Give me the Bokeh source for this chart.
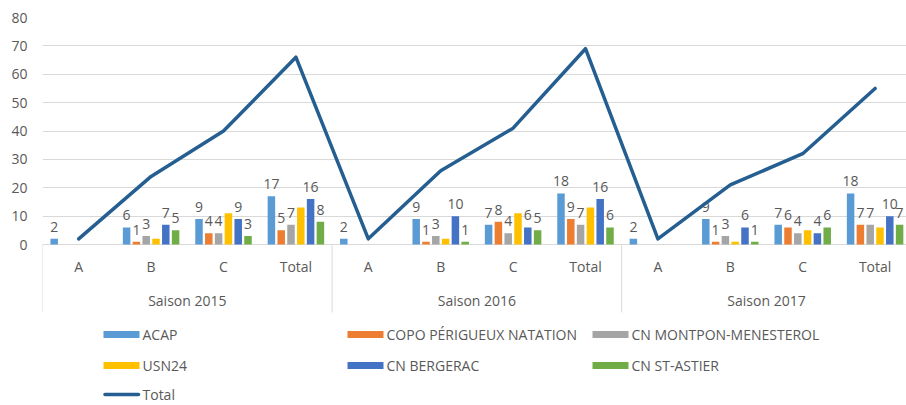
from bokeh.plotting import figure
from bokeh.models import ColumnDataSource, Range1d, FixedTicker
from bokeh.embed import file_html
from bokeh.resources import INLINE
from bokeh.core.properties import value
from bokeh.transform import dodge

# ---------------- data ----------------
seasons = ["Saison 2015", "Saison 2016", "Saison 2017"]
levels = ["A", "B", "C", "Total"]
series_names = ["ACAP", "COPO PÉRIGUEUX NATATION", "CN MONTPON-MENESTEROL",
                "USN24", "CN BERGERAC", "CN ST-ASTIER"]
acap     = [2, 6, 9, 17, 2, 9, 7, 18, 2, 9, 7, 18]
copo     = [0, 1, 4, 5, 0, 1, 8, 9, 0, 1, 6, 7]
montpon  = [0, 3, 4, 7, 0, 3, 4, 7, 0, 3, 4, 7]
usn24    = [0, 2, 11, 13, 0, 2, 11, 13, 0, 1, 5, 6]
bergerac = [0, 7, 9, 16, 0, 10, 6, 16, 0, 6, 4, 10]
stastier = [0, 5, 3, 8, 0, 1, 5, 6, 0, 1, 6, 7]
total    = [2, 24, 40, 66, 2, 26, 41, 69, 2, 21, 32, 55]
y_ticks = [0, 10, 20, 30, 40, 50, 60, 70, 80]

# ---------------- styles / layout ----------------
colors = ["#5B9BD5", "#ED7D31", "#A5A5A5", "#FFC000", "#4472C4", "#70AD47"]
line_color = "#255E91"
show_labels = [True, True, True, False, True, True]
FONT = "Open Sans"
TXT = "#595959"
GRID = "#D9D9D9"

W, H = 906, 405
FRAME_L, FRAME_R, FRAME_T, FRAME_B = 42, 906, 17, 405   # figure pixels
ZERO_Y = 244
PX_PER_CAT = 72.4
PX_PER_UNIT = (ZERO_Y - FRAME_T) / 80.0
BAR_W = 7.5 / PX_PER_CAT
BAR_PITCH = 9.8 / PX_PER_CAT


def dx(px):
    return (px - FRAME_L) / PX_PER_CAT


def dy(py):
    return (ZERO_Y - py) / PX_PER_UNIT


series_values = [acap, copo, montpon, usn24, bergerac, stastier]
n_cat = len(seasons) * len(levels)
cat_x = [i + 0.5 for i in range(n_cat)]
cat_labels = levels * len(seasons)

data = {"x": cat_x, "total": total}
for k, vals in enumerate(series_values):
    data["s%d" % k] = vals
src = ColumnDataSource(data)

x_range = Range1d(0, (FRAME_R - FRAME_L) / PX_PER_CAT)
y_range = Range1d(dy(FRAME_B), 80)

p = figure(width=W, height=H, x_range=x_range, y_range=y_range,
           output_backend="svg", toolbar_location=None,
           x_axis_location=None,
           min_border_left=FRAME_L, min_border_right=0,
           min_border_top=FRAME_T, min_border_bottom=0)
p.outline_line_color = None
p.background_fill_color = "white"
p.border_fill_color = "white"

p.xgrid.visible = False
p.ygrid.ticker = FixedTicker(ticks=y_ticks)
p.ygrid.grid_line_color = GRID
p.ygrid.grid_line_width = 1

ax = p.yaxis[0]
ax.ticker = FixedTicker(ticks=y_ticks)
ax.axis_line_color = None
ax.major_tick_line_color = None
ax.minor_tick_line_color = None
ax.major_tick_out = 0
ax.major_tick_in = 0
ax.major_label_standoff = 15
ax.major_label_text_font = FONT
ax.major_label_text_font_size = "14px"
ax.major_label_text_color = TXT

# category axis separators
sep_x = [k * len(levels) for k in range(len(seasons) + 1)]
p.segment(x0=sep_x, x1=sep_x, y0=[0] * len(sep_x), y1=[dy(312)] * len(sep_x),
          line_color=GRID, line_width=1)

# bars
for k, name in enumerate(series_names):
    p.vbar(x=dodge("x", (k - 2.5) * BAR_PITCH, range=p.x_range), top="s%d" % k,
           width=BAR_W, source=src, fill_color=colors[k], line_color=None)

# data labels
for k, vals in enumerate(series_values):
    if not show_labels[k]:
        continue
    xs = [cat_x[i] + (k - 2.5) * BAR_PITCH for i, v in enumerate(vals) if v != 0]
    ys = [v for v in vals if v != 0]
    ts = [str(v) for v in vals if v != 0]
    p.text(x=xs, y=ys, text=ts, y_offset=-12, text_align="center",
           text_baseline="alphabetic", text_font=value(FONT),
           text_font_size="14px", text_color=TXT)

# total line
p.line(x="x", y="total", source=src, line_color=line_color, line_width=3.5,
       line_join="round", line_cap="round")

# category labels
p.text(x=cat_x, y=[dy(266)] * n_cat, text=cat_labels, text_align="center",
       text_baseline="middle", text_font=value(FONT), text_font_size="14px",
       text_color=TXT)
season_x = [(k + 0.5) * len(levels) for k in range(len(seasons))]
p.text(x=season_x, y=[dy(300)] * len(seasons), text=seasons, text_align="center",
       text_baseline="middle", text_font=value(FONT), text_font_size="14px",
       text_color=TXT)

# legend (row-major, 3 columns)
col_px = [103, 347, 592]
row_py = [334, 365, 394]
legend_items = [(series_names[k], colors[k], "bar") for k in range(6)] + [("Total", line_color, "line")]
for idx, (name, col, kind) in enumerate(legend_items):
    lx = col_px[idx % 3]
    ly = row_py[idx // 3]
    if kind == "bar":
        p.rect(x=[dx(lx + 18)], y=[dy(ly)], width=36, height=7,
               width_units="screen", height_units="screen",
               fill_color=col, line_color=None)
    else:
        p.line(x=[dx(lx + 1.5), dx(lx + 35)], y=[dy(ly), dy(ly)],
               line_color=col, line_width=3.5, line_cap="round")
    p.text(x=[dx(lx + 39)], y=[dy(ly)], text=[name], text_align="left",
           text_baseline="middle", text_font=value(FONT), text_font_size="14px",
           text_color=TXT)

open("out.html", "w").write(file_html(p, INLINE))
